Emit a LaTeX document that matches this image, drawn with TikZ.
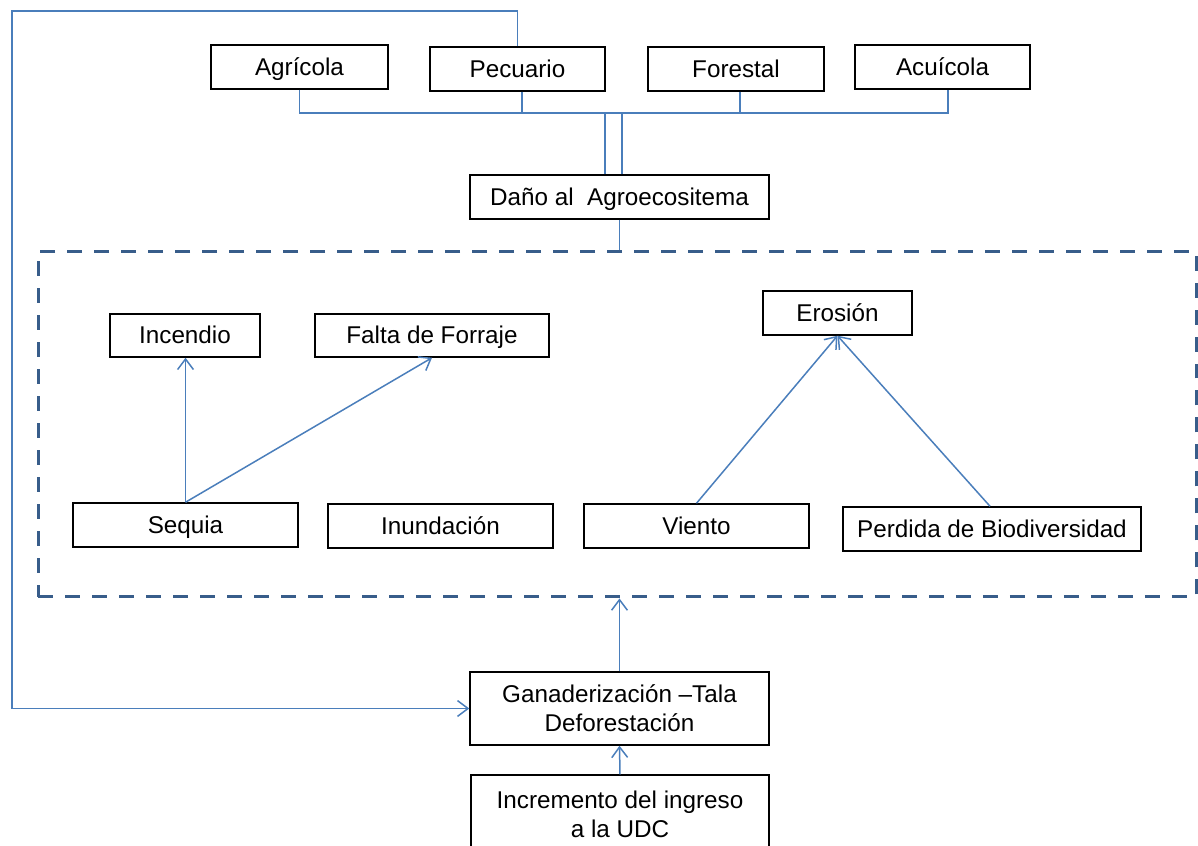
\documentclass[tikz,border=0pt]{standalone}
\usepackage{fontspec}
\setmainfont{Liberation Sans}
\usetikzlibrary{arrows.meta}
\definecolor{linkblue}{HTML}{4A7EBB}
\definecolor{frameblue}{HTML}{385D8A}
\begin{document}
\begin{tikzpicture}[x=0.02cm, y=-0.02cm,
  basebox/.style={draw=black, line width=0.85pt, fill=white, inner sep=0pt,
    font=\fontsize{13.8}{16.5}\selectfont, minimum height=0.88cm},
  onebox/.style={basebox, text height=1.12em, text depth=0.2em},
  twobox/.style={basebox, align=center},
  conn/.style={draw=linkblue, line width=0.85pt},
  arr/.style={conn, -{Straight Barb[length=6pt, width=9pt, line width=0.85pt]}},
  zoneframe/.style={draw=frameblue, line width=1.7pt, dash pattern=on 0.3cm off 0.24cm, inner sep=0pt}]
\useasboundingbox (0,0) rectangle (1198,846);
\clip (0,0) rectangle (1198,846);
\fill[white] (0,0) rectangle (1198,846);

% dashed zone of causes
\node[zoneframe, minimum width=23.17cm, minimum height=6.92cm] (zone) at (617.3,424) {};

% production sectors
\node[onebox, minimum width=3.54cm] (agri) at (299.5,67) {Agrícola};
\node[onebox, minimum width=3.50cm] (pecu) at (517.5,69) {Pecuario};
\node[onebox, minimum width=3.52cm] (fore) at (736,69) {Forestal};
\node[onebox, minimum width=3.50cm] (acui) at (942.5,67) {Acuícola};

% damage
\node[onebox, minimum width=5.98cm] (dano) at (619.5,197) {Daño al\ \ Agroecositema};

% causes inside the zone
\node[onebox, minimum width=3.00cm, minimum height=0.86cm] (inc) at (185,335.5) {Incendio};
\node[onebox, minimum width=4.68cm, minimum height=0.86cm] (falta) at (432,335.5) {Falta de Forraje};
\node[onebox, minimum width=2.98cm] (eros) at (837.5,313) {Erosión};
\node[onebox, minimum width=4.50cm] (seq) at (185.5,525) {Sequia};
\node[onebox, minimum width=4.50cm] (inun) at (440.5,526) {Inundación};
\node[onebox, minimum width=4.50cm] (viento) at (696.5,526) {Viento};
\node[onebox, minimum width=5.96cm] (perd) at (992,529) {Perdida de Biodiversidad};

% drivers
\node[twobox, minimum width=5.98cm, minimum height=1.46cm] (gan) at (619.5,708.5) {Ganaderización –Tala\\Deforestación};
\node[twobox, minimum width=5.96cm, minimum height=1.58cm] (incr) at (620,814.5) {Incremento del ingreso\\a la UDC};

% bus joining the sectors
\coordinate (bus) at (0,113);
\draw[conn] (agri.south) -- (agri.south |- bus) -- ([xshift=0.11cm]acui.south |- bus) -- ([xshift=0.11cm]acui.south);
\draw[conn] ([xshift=0.09cm]pecu.south) -- ([xshift=0.09cm]pecu.south |- bus);
\draw[conn] ([xshift=0.08cm]fore.south) -- ([xshift=0.08cm]fore.south |- bus);
\draw[conn] ([xshift=-0.29cm]dano.north) -- ([xshift=-0.29cm]dano.north |- bus);
\draw[conn] ([xshift=0.05cm]dano.north) -- ([xshift=0.05cm]dano.north |- bus);
\draw[conn] (dano.south) -- (dano.south |- zone.north);

% arrows among causes
\draw[arr] (seq.north) -- (seq.north |- inc.south);
\draw[arr] (seq.north) -- (falta.south);
\draw[arr] (viento.north) -- (eros.south);
\draw[arr] ([xshift=-0.04cm]perd.north) -- (eros.south);

% arrows from drivers
\draw[arr] (gan.north) -- (gan.north |- zone.south);
\draw[arr] (incr.north) -- (gan.south);

% feedback loop from Pecuario
\coordinate (loop) at (12,11);
\draw[arr] (pecu.north) |- (loop) |- (gan.west);
\end{tikzpicture}
\end{document}
